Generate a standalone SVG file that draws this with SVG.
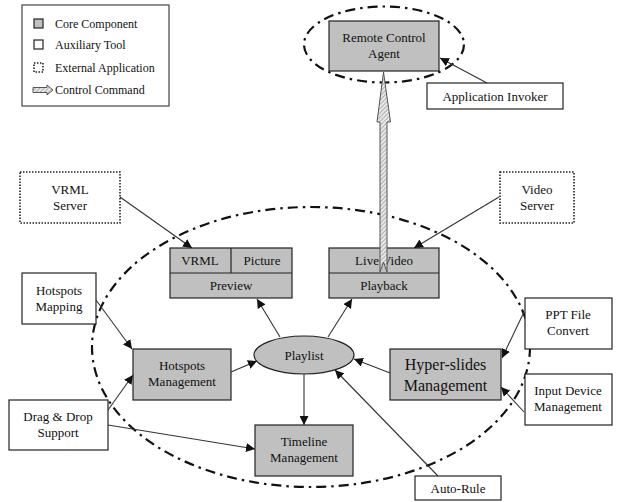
<svg xmlns="http://www.w3.org/2000/svg" width="618" height="502" viewBox="0 0 618 502">
<defs>
<marker id="ah" viewBox="0 0 10 10" refX="10" refY="5" markerWidth="9" markerHeight="9" markerUnits="userSpaceOnUse" orient="auto">
<path d="M0,0 L10,5 L0,10 z" fill="#111"/>
</marker>
<pattern id="hatch" patternUnits="userSpaceOnUse" width="3" height="3" patternTransform="rotate(45)">
<rect width="3" height="3" fill="#e8e8e8"/>
<line x1="0" y1="0" x2="0" y2="3" stroke="#8a8a8a" stroke-width="1.2"/>
</pattern>
<style>
text{font-family:"Liberation Serif","DejaVu Serif","Times New Roman",serif;font-size:13px;fill:#111;text-anchor:middle}
.lg{font-size:12px;text-anchor:start}
.big{font-size:16px}
.core{fill:#c0c0c0;stroke:#222;stroke-width:1.2}
.aux{fill:#fff;stroke:#222;stroke-width:1.2}
.ext{fill:#fff;stroke:#222;stroke-width:1.6;stroke-dasharray:1.5 1.5}
.ring{fill:none;stroke:#111;stroke-width:2.2;stroke-dasharray:10 5 2.5 5}
.conn line{stroke:#333;stroke-width:1.1;marker-end:url(#ah)}
.cmd{fill:url(#hatch);stroke:#555;stroke-width:1}
</style>
</defs>
<rect width="618" height="502" fill="#fff"/>

<g id="legend" font-family="Liberation Serif, DejaVu Serif, serif">
<rect x="22" y="5" width="147" height="101" fill="#fff" stroke="#444" stroke-width="1.2"/>
<rect x="34" y="19" width="9" height="9" class="core"/>
<text class="lg" x="55" y="28">Core Component</text>
<rect x="34" y="40" width="9" height="9" class="aux"/>
<text class="lg" x="55" y="49">Auxiliary Tool</text>
<rect x="34" y="63" width="9" height="9" class="ext"/>
<text class="lg" x="55" y="72">External Application</text>
<path d="M33,87.5 L47,87.5 L47,85 L53,90 L47,95 L47,92.5 L33,92.5 z" class="cmd"/>
<text class="lg" x="55" y="94">Control Command</text>
</g>

<ellipse class="ring" cx="384" cy="44.5" rx="80" ry="38"/>
<ellipse class="ring" cx="311" cy="347" rx="219" ry="140"/>

<g id="remote-control-agent">
<rect x="329" y="21" width="110" height="50" class="core"/>
<text x="384" y="42">Remote Control</text>
<text x="384" y="58">Agent</text>
</g>

<g id="application-invoker">
<rect x="427" y="83" width="136" height="26" class="aux"/>
<text x="495" y="101">Application Invoker</text>
</g>

<g id="vrml-server">
<rect x="20" y="172" width="100" height="51" class="ext"/>
<text x="70" y="194">VRML</text>
<text x="70" y="210">Server</text>
</g>

<g id="video-server">
<rect x="500" y="172" width="74" height="51" class="ext"/>
<text x="537" y="194">Video</text>
<text x="537" y="210">Server</text>
</g>

<g id="preview">
<rect x="170" y="248" width="122" height="50" class="core"/>
<line x1="170" y1="273" x2="292" y2="273" stroke="#222" stroke-width="1.2"/>
<line x1="231" y1="248" x2="231" y2="273" stroke="#222" stroke-width="1.2"/>
<text x="200" y="265">VRML</text>
<text x="262" y="265">Picture</text>
<text x="231" y="290">Preview</text>
</g>

<g id="playback">
<rect x="329" y="248" width="110" height="50" class="core"/>
<line x1="329" y1="273" x2="439" y2="273" stroke="#222" stroke-width="1.2"/>
<text x="384" y="265">Live Video</text>
<text x="384" y="290">Playback</text>
</g>

<g id="hotspots-mapping">
<rect x="22" y="273" width="74" height="51" class="aux"/>
<text x="59" y="295">Hotspots</text>
<text x="59" y="311">Mapping</text>
</g>

<g id="ppt-file-convert">
<rect x="525" y="298" width="87" height="51" class="aux"/>
<text x="568" y="319">PPT File</text>
<text x="568" y="335">Convert</text>
</g>

<g id="hotspots-management">
<rect x="133" y="349" width="98" height="51" class="core"/>
<text x="182" y="370">Hotspots</text>
<text x="182" y="386">Management</text>
</g>

<g id="playlist">
<ellipse cx="304" cy="355" rx="50" ry="19" class="core"/>
<text x="304" y="360">Playlist</text>
</g>

<g id="hyper-slides-management">
<rect x="390" y="349" width="111" height="51" class="core"/>
<text class="big" x="445.5" y="370">Hyper-slides</text>
<text class="big" x="445.5" y="391">Management</text>
</g>

<g id="input-device-management">
<rect x="525" y="374" width="87" height="51" class="aux"/>
<text x="568" y="395">Input Device</text>
<text x="568" y="411">Management</text>
</g>

<g id="drag-drop-support">
<rect x="9" y="400" width="99" height="50" class="aux"/>
<text x="58" y="421">Drag &amp; Drop</text>
<text x="58" y="437">Support</text>
</g>

<g id="timeline-management">
<rect x="255" y="425" width="98" height="51" class="core"/>
<text x="304" y="446">Timeline</text>
<text x="304" y="462">Management</text>
</g>

<g id="auto-rule">
<rect x="415" y="476" width="86" height="24" class="aux"/>
<text x="458" y="493">Auto-Rule</text>
</g>

<g id="connectors" class="conn">
<line x1="487" y1="83" x2="440" y2="58"/>
<line x1="120" y1="197" x2="192" y2="248"/>
<line x1="499" y1="197" x2="414" y2="248"/>
<line x1="96" y1="300" x2="132" y2="349"/>
<line x1="108" y1="410" x2="133" y2="375"/>
<line x1="108" y1="425" x2="255" y2="449"/>
<line x1="231" y1="372" x2="257" y2="361"/>
<line x1="280" y1="337" x2="257" y2="299"/>
<line x1="328" y1="337" x2="352" y2="299"/>
<line x1="304" y1="374" x2="304" y2="425"/>
<line x1="390" y1="373" x2="354" y2="359"/>
<line x1="438" y1="476" x2="335" y2="370"/>
<line x1="524" y1="312" x2="502" y2="358"/>
<line x1="524" y1="412" x2="501" y2="387"/>
<path class="cmd" d="M380,272 L380,122 L377,122 L383.5,72 L390.5,122 L387,122 L387,272 L383.5,262 z"/>
</g>
</svg>
